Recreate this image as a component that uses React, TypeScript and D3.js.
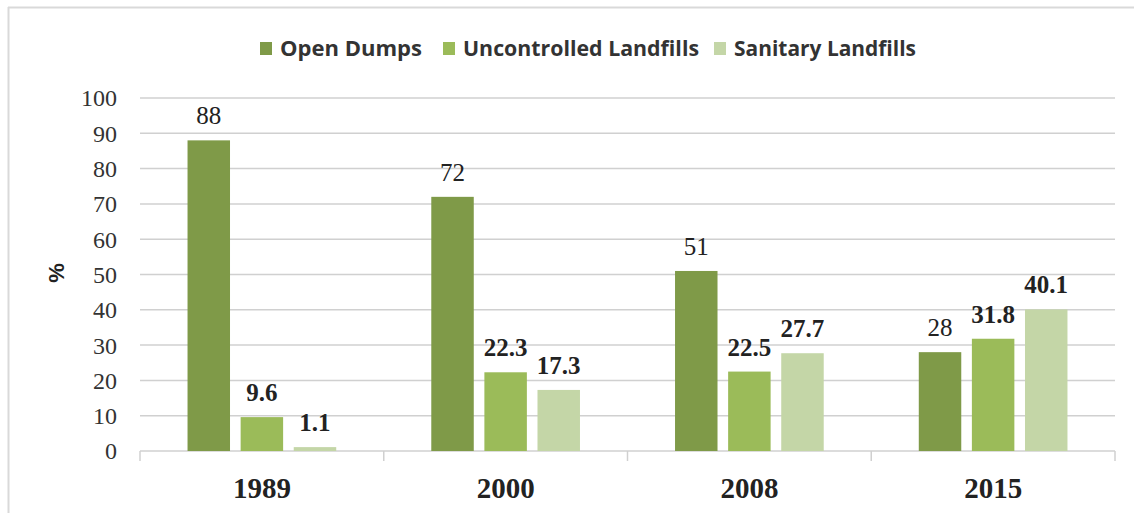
import React from "react";
import * as d3 from "d3";

const years = ["1989", "2000", "2008", "2015"];
const seriesNames = ["Open Dumps", "Uncontrolled Landfills", "Sanitary Landfills"];
const openDumps = [88, 72, 51, 28];
const uncontrolled = [9.6, 22.3, 22.5, 31.8];
const sanitary = [1.1, 17.3, 27.7, 40.1];
const yTicks = [0, 10, 20, 30, 40, 50, 60, 70, 80, 90, 100];
const colors = ["#7f9a48", "#9bbb59", "#c4d6a7"];

const W = 1134;
const H = 513;
const margin = { left: 140, right: 19, top: 98, bottom: 62 };

export default function App() {
  const series = [openDumps, uncontrolled, sanitary];
  const x0 = d3.scaleBand().domain(years).range([margin.left, W - margin.right]).paddingInner(0).paddingOuter(0);
  const inner = 0.61;
  const x1 = d3
    .scaleBand()
    .domain(seriesNames)
    .range([0, x0.bandwidth() * inner])
    .paddingInner(0.2);
  const y = d3.scaleLinear().domain([0, 100]).range([H - margin.bottom, margin.top]);
  const groupOffset = (x0.bandwidth() * (1 - inner)) / 2;
  const boundaries = [...years.map((yr) => x0(yr)!), W - margin.right];
  const legendX = [260, 443, 714];
  const legendW = [142, 236, 182];

  return (
    <svg width={W} height={H} style={{ position: "absolute", left: 0, top: 0, background: "#fff" }}>
      <rect x={0} y={0} width={W} height={H} fill="#fff" />
      <line x1={8.5} y1={7} x2={8.5} y2={H} stroke="#d9d9d9" strokeWidth={2} />
      <line x1={8} y1={7.5} x2={W} y2={7.5} stroke="#d9d9d9" strokeWidth={2} />
      {yTicks.map((t) => (
        <line key={t} x1={margin.left} x2={W - margin.right} y1={y(t)} y2={y(t)} stroke="#d0d0d0" strokeWidth={1.5} />
      ))}
      {boundaries.map((b, i) => (
        <line key={i} x1={b} x2={b} y1={y(0)} y2={y(0) + 10} stroke="#d0d0d0" strokeWidth={1.5} />
      ))}
      {yTicks.map((t) => (
        <text
          key={t}
          x={117}
          y={y(t)}
          dy="0.35em"
          textAnchor="end"
          fontFamily="Liberation Serif"
          fontSize={24}
          fill="#333"
        >
          {t}
        </text>
      ))}
      <text
        transform={`translate(64,273) rotate(-90)`}
        textAnchor="middle"
        fontFamily="Liberation Sans"
        fontWeight="bold"
        fontSize={22}
        fill="#222"
      >
        %
      </text>
      {years.map((yr, i) => (
        <g key={yr}>
          {series.map((s, j) => {
            const bx = x0(yr)! + groupOffset + x1(seriesNames[j])!;
            const bw = x1.bandwidth();
            return (
              <g key={j}>
                <rect x={bx} y={y(s[i])} width={bw} height={y(0) - y(s[i])} fill={colors[j]} />
                <text
                  x={bx + bw / 2}
                  y={y(s[i]) - 16}
                  textAnchor="middle"
                  fontFamily="Liberation Serif"
                  fontWeight={j === 0 ? "normal" : "bold"}
                  fontSize={25}
                  fill="#222"
                >
                  {s[i]}
                </text>
              </g>
            );
          })}
          <text
            x={x0(yr)! + x0.bandwidth() / 2}
            y={498}
            textAnchor="middle"
            fontFamily="Liberation Serif"
            fontWeight="bold"
            fontSize={29}
            fill="#222"
          >
            {yr}
          </text>
        </g>
      ))}
      {seriesNames.map((n, j) => (
        <g key={n}>
          <rect x={legendX[j]} y={42} width={12} height={13} fill={colors[j]} />
          <text
            x={legendX[j] + 20}
            y={56}
            fontFamily="Open Sans"
            fontWeight="bold"
            fontSize={21}
            fill="#333"
            textLength={legendW[j]}
            lengthAdjust="spacingAndGlyphs"
          >
            {n}
          </text>
        </g>
      ))}
    </svg>
  );
}
